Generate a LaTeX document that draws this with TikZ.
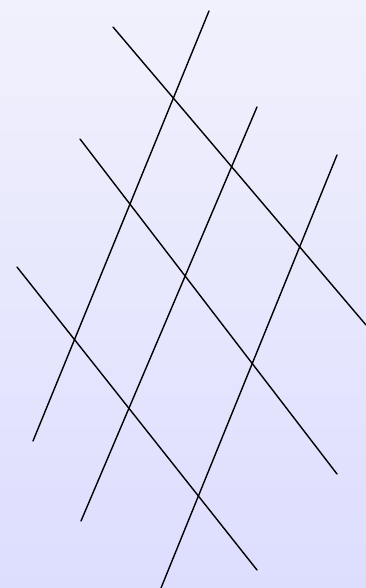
\documentclass[tikz,border=0pt]{standalone}
\definecolor{paletop}{RGB}{241,241,253}
\definecolor{palebottom}{RGB}{221,221,254}
\usepackage{tikz}
\usetikzlibrary{calc}

\tikzset{
  gridline/.style={draw=black, line width=1.4pt, line cap=round}
}

\begin{document}
\begin{tikzpicture}[x=1pt, y=-1pt]
    % background
    \shade[top color=paletop, bottom color=palebottom] (0,0) rectangle (366,588);
    \useasboundingbox (0,0) rectangle (366,588);
    % rising lines
    \coordinate (ra0) at (33,441);  \coordinate (ra1) at (209,11);
    \coordinate (rb0) at (81,521);  \coordinate (rb1) at (257,107);
    \coordinate (rc0) at (161,588); \coordinate (rc1) at (337,155);
    % falling lines
    \coordinate (fa0) at (113,27);  \coordinate (fa1) at (366,325);
    \coordinate (fb0) at (80,139);  \coordinate (fb1) at (337,474);
    \coordinate (fc0) at (17,267);  \coordinate (fc1) at (257,570);
    \foreach \l in {ra,rb,rc,fa,fb,fc}
      \draw[gridline] (\l0) -- (\l1);
  \end{tikzpicture}
\end{document}
